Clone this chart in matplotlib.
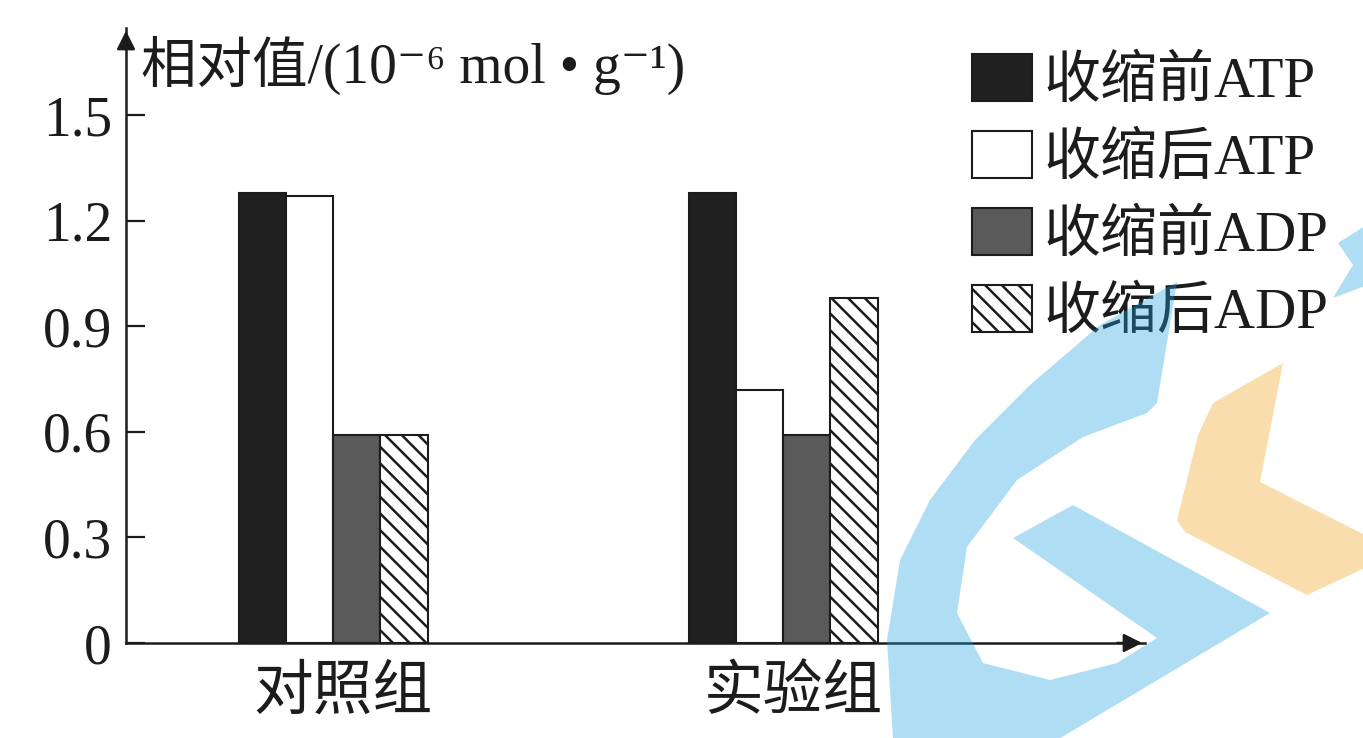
import matplotlib
matplotlib.use("Agg")
import matplotlib.pyplot as plt
from matplotlib.patches import Polygon
from matplotlib.transforms import Affine2D, ScaledTranslation
import numpy as np

# 数据
groups = ['对照组', '实验组']
series_names = ['收缩前ATP', '收缩后ATP', '收缩前ADP', '收缩后ADP']
atp_before = [1.28, 1.28]
atp_after = [1.27, 0.72]
adp_before = [0.59, 0.59]
adp_after = [0.59, 0.98]
y_ticks = [0, 0.3, 0.6, 0.9, 1.2, 1.5]
y_tick_labels = ['0', '0.3', '0.6', '0.9', '1.2', '1.5']
y_title = '相对值/(10⁻⁶ mol • g⁻¹)'

plt.rcParams['font.family'] = ['Liberation Serif', 'Noto Sans CJK SC', 'DejaVu Sans']
plt.rcParams['hatch.linewidth'] = 1.8
ink = '#1c1c1c'

fig = plt.figure(figsize=(13.63, 7.38), dpi=100)
ax = fig.add_axes([126 / 1363, 95 / 738, 1019 / 1363, 615 / 738])

x = np.arange(len(groups))
w = 0.105
series = [atp_before, atp_after, adp_before, adp_after]
faces = ['#202020', 'white', '#5a5a5a', 'white']
hatches = [None, None, None, '\\\\']
for i, vals in enumerate(series):
    ax.bar(x + (i - 1.5) * w, vals, w, facecolor=faces[i], edgecolor=ink,
           linewidth=1.5, hatch=hatches[i], label=series_names[i])

ax.set_xlim(-0.46, 1.804)
ax.set_ylim(0, 1.748)
ax.set_yticks(y_ticks, y_tick_labels)
ax.set_xticks(x, groups)
ax.tick_params(axis='y', direction='in', length=13.5, width=1.6, pad=10,
               labelsize=40, colors=ink)
ax.tick_params(axis='x', length=0, pad=17, labelsize=43, colors=ink)
shift = ScaledTranslation(10 / 100, 0, fig.dpi_scale_trans)
for lab in ax.get_xticklabels():
    lab.set_transform(lab.get_transform() + shift)
for s in ['top', 'right']:
    ax.spines[s].set_visible(False)
for s in ['left', 'bottom']:
    ax.spines[s].set_linewidth(1.8)
    ax.spines[s].set_color(ink)

# 坐标轴箭头
ax.annotate('', xy=(0, 1), xytext=(0, 0.96), xycoords='axes fraction',
            arrowprops=dict(arrowstyle='-|>', color=ink, lw=1.8, mutation_scale=28),
            annotation_clip=False)
ax.annotate('', xy=(1, 0), xytext=(0.97, 0), xycoords='axes fraction',
            arrowprops=dict(arrowstyle='-|>', color=ink, lw=1.8, mutation_scale=28),
            annotation_clip=False)

fig.text(141 / 1363, 1 - 65 / 738, y_title, fontsize=40, va='center', ha='left', color=ink)

fig.legend(loc='upper left', bbox_to_anchor=(972 / 1363, 1 - 54 / 738), frameon=False,
           fontsize=41, handlelength=1.05, handleheight=0.88, handletextpad=0.2,
           labelspacing=0.39, borderpad=0, borderaxespad=0, labelcolor=ink)

# 水印
px = Affine2D().scale(1 / 1363, -1 / 738).translate(0, 1) + fig.transFigure
blue = (26 / 255, 163 / 255, 224 / 255)
orange = (240 / 255, 160 / 255, 20 / 255)
blue_arc = [(1177, 282), (1100, 325), (1030, 385), (975, 440), (930, 500), (900, 560),
            (887, 640), (893, 740), (1057, 740), (1270, 613), (1073, 505), (1013, 538),
            (1157, 638), (1117, 663), (1050, 680), (983, 663), (957, 613), (967, 547),
            (1017, 480), (1083, 437), (1147, 413), (1157, 403)]
blue_tip = [(1365, 226), (1338, 243), (1353, 265), (1333, 298), (1365, 286)]
orange_piece = [(1283, 363), (1213, 403), (1198, 435), (1177, 520), (1185, 532),
                (1307, 595), (1365, 568), (1365, 535), (1260, 482)]
for pts, col in [(blue_arc, blue), (blue_tip, blue), (orange_piece, orange)]:
    fig.add_artist(Polygon(pts, closed=True, transform=px, facecolor=col,
                           edgecolor='none', alpha=0.35, zorder=10))

fig.savefig('out.png', dpi=100)
